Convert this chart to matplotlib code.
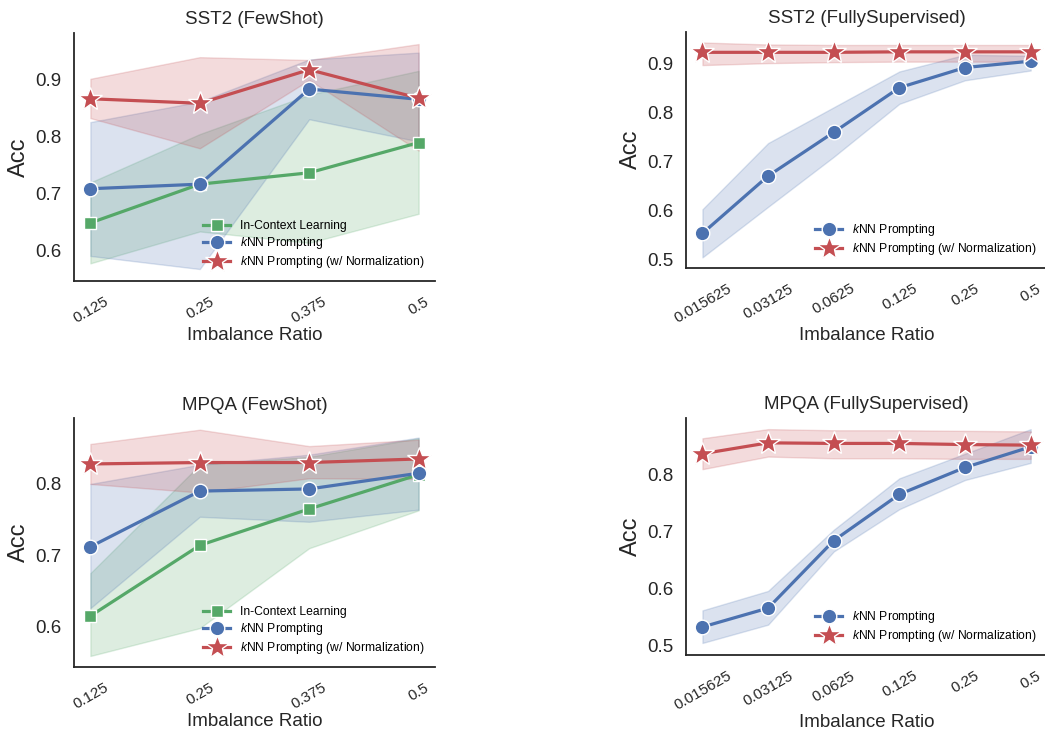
import numpy as np
import matplotlib
matplotlib.use('Agg')
import matplotlib.pyplot as plt

plt.rcParams['font.family'] = ['Liberation Sans', 'DejaVu Sans']
plt.rcParams['mathtext.fontset'] = 'custom'
plt.rcParams['mathtext.it'] = 'Liberation Sans:italic'
plt.rcParams['mathtext.rm'] = 'Liberation Sans'

# colores (paleta "deep")
GREEN = '#55A868'
BLUE = '#4C72B0'
RED = '#C44E52'

# ejes x
few_x = [0.125, 0.25, 0.375, 0.5]
few_labels = ['0.125', '0.25', '0.375', '0.5']
full_x = [0.015625, 0.03125, 0.0625, 0.125, 0.25, 0.5]
full_labels = ['0.015625', '0.03125', '0.0625', '0.125', '0.25', '0.5']

# SST2 (FewShot)
sst2_few_icl = [0.649, 0.717, 0.737, 0.790]
sst2_few_icl_lo = [0.578, 0.634, 0.614, 0.665]
sst2_few_icl_hi = [0.720, 0.805, 0.874, 0.916]
sst2_few_knn = [0.709, 0.717, 0.884, 0.866]
sst2_few_knn_lo = [0.591, 0.568, 0.831, 0.792]
sst2_few_knn_hi = [0.826, 0.862, 0.936, 0.948]
sst2_few_norm = [0.867, 0.859, 0.918, 0.868]
sst2_few_norm_lo = [0.833, 0.780, 0.900, 0.776]
sst2_few_norm_hi = [0.902, 0.940, 0.935, 0.963]

# SST2 (FullySupervised)
sst2_full_knn = [0.553, 0.670, 0.759, 0.850, 0.891, 0.904]
sst2_full_knn_lo = [0.504, 0.607, 0.709, 0.817, 0.865, 0.885]
sst2_full_knn_hi = [0.602, 0.737, 0.810, 0.883, 0.917, 0.915]
sst2_full_norm = [0.922, 0.922, 0.922, 0.923, 0.923, 0.923]
sst2_full_norm_lo = [0.896, 0.900, 0.902, 0.903, 0.903, 0.903]
sst2_full_norm_hi = [0.942, 0.938, 0.937, 0.937, 0.937, 0.937]

# MPQA (FewShot)
mpqa_few_icl = [0.615, 0.714, 0.765, 0.813]
mpqa_few_icl_lo = [0.559, 0.598, 0.710, 0.763]
mpqa_few_icl_hi = [0.675, 0.827, 0.838, 0.864]
mpqa_few_knn = [0.712, 0.790, 0.793, 0.815]
mpqa_few_knn_lo = [0.626, 0.754, 0.747, 0.764]
mpqa_few_knn_hi = [0.800, 0.827, 0.841, 0.865]
mpqa_few_norm = [0.828, 0.830, 0.830, 0.835]
mpqa_few_norm_lo = [0.800, 0.788, 0.808, 0.807]
mpqa_few_norm_hi = [0.856, 0.876, 0.853, 0.862]

# MPQA (FullySupervised)
mpqa_full_knn = [0.533, 0.566, 0.684, 0.765, 0.812, 0.848]
mpqa_full_knn_lo = [0.505, 0.537, 0.665, 0.739, 0.790, 0.820]
mpqa_full_knn_hi = [0.562, 0.596, 0.703, 0.793, 0.836, 0.879]
mpqa_full_norm = [0.836, 0.855, 0.854, 0.854, 0.852, 0.851]
mpqa_full_norm_lo = [0.809, 0.831, 0.828, 0.828, 0.827, 0.827]
mpqa_full_norm_hi = [0.863, 0.879, 0.877, 0.877, 0.876, 0.875]

LBL_ICL = 'In-Context Learning'
LBL_KNN = r'$\it{k}$NN Prompting'
LBL_NORM = r'$\it{k}$NN Prompting (w/ Normalization)'

fig = plt.figure(figsize=(10.45, 7.31), dpi=100)
ax_tl = fig.add_axes([0.0708, 0.6156, 0.3455, 0.3397])
ax_tr = fig.add_axes([0.6565, 0.6338, 0.3455, 0.3228])
ax_bl = fig.add_axes([0.0708, 0.0880, 0.3455, 0.3398])
ax_br = fig.add_axes([0.6565, 0.1040, 0.3455, 0.3246])


def serie(ax, x, y, lo, hi, color, marker, ms, label):
    ax.fill_between(x, lo, hi, color=color, alpha=0.2, linewidth=1)
    ax.plot(x, y, color=color, lw=2.3, marker=marker, markersize=ms,
            markeredgecolor='white', markeredgewidth=1, label=label)


def estilo(ax, title, x, labels, ylim, yticks, log=False):
    if log:
        ax.set_xscale('log', base=2)
        ax.minorticks_off()
    ax.set_xticks(x, labels)
    ax.set_ylim(*ylim)
    ax.set_yticks(yticks)
    ax.set_title(title, fontsize=13.5, color='.15')
    ax.set_xlabel('Imbalance Ratio', fontsize=13.5, color='.15', labelpad=1)
    ax.set_ylabel('Acc', fontsize=17, color='.15')
    ax.tick_params(axis='y', length=0, pad=9, labelsize=13.5, labelcolor='.15')
    ax.tick_params(axis='x', length=0, pad=10, labelsize=11, labelcolor='.15',
                   labelrotation=30)
    for side in ['top', 'right']:
        ax.spines[side].set_visible(False)
    for side in ['left', 'bottom']:
        ax.spines[side].set_color('.15')
        ax.spines[side].set_linewidth(1.3)
    ax.legend(loc='lower right', frameon=False, fontsize=8.7, numpoints=1,
              labelspacing=0.25, handlelength=2.2)


# SST2 (FewShot)
serie(ax_tl, few_x, sst2_few_icl, sst2_few_icl_lo, sst2_few_icl_hi, GREEN, 's', 8.5, LBL_ICL)
serie(ax_tl, few_x, sst2_few_knn, sst2_few_knn_lo, sst2_few_knn_hi, BLUE, 'o', 10.5, LBL_KNN)
serie(ax_tl, few_x, sst2_few_norm, sst2_few_norm_lo, sst2_few_norm_hi, RED, '*', 18, LBL_NORM)
estilo(ax_tl, 'SST2 (FewShot)', few_x, few_labels, (0.547, 0.983), [0.6, 0.7, 0.8, 0.9])

# SST2 (FullySupervised)
serie(ax_tr, full_x, sst2_full_knn, sst2_full_knn_lo, sst2_full_knn_hi, BLUE, 'o', 10.5, LBL_KNN)
serie(ax_tr, full_x, sst2_full_norm, sst2_full_norm_lo, sst2_full_norm_hi, RED, '*', 18, LBL_NORM)
estilo(ax_tr, 'SST2 (FullySupervised)', full_x, full_labels, (0.483, 0.964),
       [0.5, 0.6, 0.7, 0.8, 0.9], log=True)

# MPQA (FewShot)
serie(ax_bl, few_x, mpqa_few_icl, mpqa_few_icl_lo, mpqa_few_icl_hi, GREEN, 's', 8.5, LBL_ICL)
serie(ax_bl, few_x, mpqa_few_knn, mpqa_few_knn_lo, mpqa_few_knn_hi, BLUE, 'o', 10.5, LBL_KNN)
serie(ax_bl, few_x, mpqa_few_norm, mpqa_few_norm_lo, mpqa_few_norm_hi, RED, '*', 18, LBL_NORM)
estilo(ax_bl, 'MPQA (FewShot)', few_x, few_labels, (0.544, 0.892), [0.6, 0.7, 0.8])

# MPQA (FullySupervised)
serie(ax_br, full_x, mpqa_full_knn, mpqa_full_knn_lo, mpqa_full_knn_hi, BLUE, 'o', 10.5, LBL_KNN)
serie(ax_br, full_x, mpqa_full_norm, mpqa_full_norm_lo, mpqa_full_norm_hi, RED, '*', 18, LBL_NORM)
estilo(ax_br, 'MPQA (FullySupervised)', full_x, full_labels, (0.484, 0.899),
       [0.5, 0.6, 0.7, 0.8], log=True)

fig.savefig('out.png', dpi=100)
plt.close(fig)
